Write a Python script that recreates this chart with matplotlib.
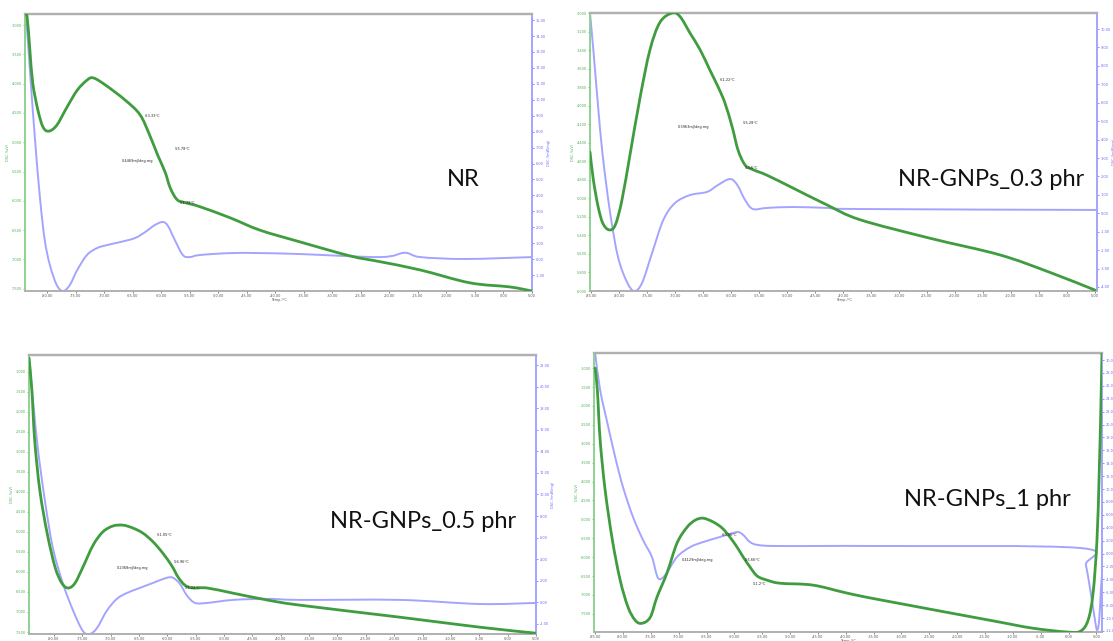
import numpy as np
import matplotlib.pyplot as plt
from matplotlib.path import Path
from matplotlib.patches import PathPatch

plt.rcParams['font.family'] = ['DejaVu Sans']

# ---- NR (top left) ----
nr_green_t = [-83.86, -83.5, -83.0, -82.5, -81.6, -80.7, -79.7, -78.3, -76.5, -74.7, -73.0, -71.9, -69.8, -66.3,
              -63.7, -62.0, -60.6, -59.3, -58.4, -57.2, -55.8, -53.2, -47.9, -42.7, -35.7, -26.9, -21.6, -14.6,
              -5.9, 1.1, 5.0]
nr_green = [2.81, 2.85, 3.43, 3.99, 4.45, 4.74, 4.81, 4.71, 4.40, 4.11, 3.94, 3.90, 4.02, 4.28,
            4.53, 4.88, 5.22, 5.51, 5.78, 5.98, 6.03, 6.10, 6.29, 6.50, 6.70, 6.94, 7.04, 7.18,
            7.40, 7.47, 7.54]
nr_blue_t = [-83.86, -83.5, -83.0, -82.1, -81.2, -80.4, -79.5, -78.3, -77.2, -76.0, -74.7, -73.0, -71.2, -69.5,
             -67.2, -64.6, -62.8, -61.1, -59.7, -58.8, -57.6, -56.2, -55.0, -53.2, -47.9, -42.7, -35.7, -21.6,
             -17.3, -14.6, -6.7, 5.0]
nr_blue = [15.38, 14.37, 11.86, 7.47, 3.71, 1.20, -0.37, -1.62, -2.0, -1.62, -0.68, 0.26, 0.70, 0.88,
           1.07, 1.32, 1.70, 2.14, 2.33, 2.08, 1.20, 0.26, 0.13, 0.26, 0.38, 0.38, 0.32, 0.13,
           0.40, 0.13, 0.01, 0.13]

# ---- NR-GNPs_0.3 phr (top right) ----
g03_green_t = [-85.2, -84.6, -83.75, -82.9, -81.8, -80.7, -79.5, -78.0, -76.25, -74.5, -72.7, -70.5, -69.1, -67.3,
               -65.5, -63.75, -62.3, -61.1, -59.8, -58.75, -57.5, -56.1, -53.6, -48.9, -42.9, -37.0, -24.5, -12.0,
               -3.0, 5.0]
g03_green = [4.50, 4.80, 5.09, 5.27, 5.34, 5.29, 5.02, 4.51, 3.91, 3.40, 3.10, 3.00, 3.04, 3.22,
             3.40, 3.62, 3.80, 3.97, 4.23, 4.48, 4.64, 4.69, 4.75, 4.89, 5.07, 5.23, 5.43, 5.61,
             5.80, 5.99]
g03_blue_t = [-85.2, -84.6, -83.75, -82.9, -81.6, -80.2, -78.6, -77.3, -75.9, -74.1, -72.1, -70.0, -67.3, -64.3,
              -62.3, -60.2, -58.9, -57.5, -56.1, -53.6, -48.9, -42.9, -37.0, 5.36]
g03_blue = [10.87, 8.86, 5.77, 3.05, 0.02, -2.37, -3.73, -4.22, -3.78, -2.15, -0.36, 0.56, 0.99, 1.16,
            1.54, 1.86, 1.54, 0.72, 0.23, 0.29, 0.34, 0.29, 0.23, 0.18]

# ---- NR-GNPs_0.5 phr (bottom left) ----
g05_green_t = [-84.4, -83.9, -83.4, -82.5, -81.2, -79.8, -78.6, -77.5, -76.3, -74.9, -73.1, -71.4, -69.6, -67.8,
               -66.1, -64.3, -62.5, -60.8, -59.2, -58.1, -56.9, -55.5, -53.0, -48.4, -42.4, -36.6, -19.0, -4.9,
               5.0]
g05_green = [0.65, 1.45, 2.70, 3.95, 5.03, 5.88, 6.28, 6.40, 6.28, 5.88, 5.33, 5.00, 4.85, 4.83,
             4.90, 5.03, 5.25, 5.53, 5.85, 6.13, 6.33, 6.40, 6.40, 6.53, 6.70, 6.83, 7.13, 7.38,
             7.53]
g05_blue_t = [-84.4, -83.7, -82.8, -81.6, -80.2, -78.4, -76.6, -74.9, -73.7, -72.4, -70.7, -68.9, -67.1, -64.8,
              -62.5, -60.1, -59.0, -57.8, -56.5, -55.1, -53.0, -48.4, -42.4, -36.6, -19.0, -4.9, 5.0]
g05_blue = [22.74, 18.74, 14.09, 9.44, 5.07, 1.72, -0.79, -2.65, -2.93, -2.37, -0.79, 0.33, 0.88, 1.35,
            1.81, 2.28, 2.28, 1.72, 0.60, -0.05, -0.05, 0.23, 0.33, 0.23, 0.23, -0.15, -0.05]

# ---- NR-GNPs_1 phr (bottom right) ----
g1_green_t = [-85.0, -84.6, -84.1, -83.2, -81.9, -80.5, -79.1, -77.8, -76.6, -75.1, -73.9, -72.1, -70.3, -68.5,
              -67.0, -65.6, -63.8, -62.2, -60.8, -59.5, -58.4, -57.2, -55.9, -54.1, -51.8, -45.9, -39.8, -33.8,
              -12.3, -6.4, -0.3, 2.1, 3.5, 4.4, 5.1, 5.5, 5.8, 6.0]
g1_green = [1.00, 1.58, 2.90, 4.23, 5.55, 6.61, 7.32, 7.67, 7.75, 7.59, 7.06, 6.42, 5.63, 5.21,
            5.02, 4.97, 5.07, 5.23, 5.47, 5.74, 6.00, 6.26, 6.50, 6.61, 6.69, 6.74, 6.95, 7.13,
            7.72, 7.88, 7.98, 7.96, 7.67, 6.95, 5.55, 3.78, 2.03, 0.60]
g1_blue_t = [-85.0, -84.1, -82.8, -81.4, -80.0, -78.2, -76.4, -74.8, -73.7, -72.4, -70.3, -67.9, -65.6, -62.6,
             -60.2, -59.3, -58.4, -57.2, -55.7, -51.8, -33.8, 2.1, 3.1, 3.9, 4.6, 5.1, 5.5, 5.8, 6.0]
g1_blue = [31.09, 25.35, 20.23, 14.96, 10.31, 5.66, 2.09, -0.54, -3.80, -3.33, -0.54, 1.01, 1.78, 2.56,
           3.18, 3.33, 2.87, 1.78, 1.32, 1.16, 1.16, 0.85, -1.78, -5.66, -9.53, -11.86, -10.31, -5.66, -3.33]

titles = ["NR", "NR-GNPs_0.3 phr", "NR-GNPs_0.5 phr", "NR-GNPs_1 phr"]

notes_nr = [(-62.8, 4.57, "-63.33°C"), (-57.6, 5.13, "-55.78°C"), (-66.9, 5.34, "0.4469mJ/deg.mg"), (-56.7, 6.05, "-51.79°C")]
notes_03 = [(-62.0, 3.73, "-61.22°C"), (-57.9, 4.20, "-55.28°C"), (-69.6, 4.24, "0.3963mJ/deg.mg"), (-57.5, 4.68, "-53.6°C")]
notes_05 = [(-61.8, 5.10, "-61.05°C"), (-58.8, 5.78, "-56.96°C"), (-68.9, 5.93, "0.2368mJ/deg.mg"), (-56.9, 6.43, "-51.22°C")]
notes_1 = [(-62.2, 5.44, "-60.56°C"), (-58.1, 6.11, "-55.66°C"), (-69.4, 6.11, "0.4129mJ/deg.mg"), (-56.6, 6.74, "-51.2°C")]

green = "#3f9c3f"
blue = "#a4a4ff"
gspine = "#8fd18f"
grey = "#b0b0b0"

fig = plt.figure(figsize=(11.13, 6.41), dpi=100)


def smooth_line(ax, xs, ys, **kw):
    # draw the measured points as a smooth bezier path (same points, rounded joins)
    p = np.column_stack([xs, ys]).astype(float)
    verts = [p[0]]
    codes = [Path.MOVETO]
    n = len(p)
    for i in range(n - 1):
        p0 = p[max(i - 1, 0)]
        p1 = p[i]
        p2 = p[i + 1]
        p3 = p[min(i + 2, n - 1)]
        c1 = p1 + (p2 - p0) / 6.0
        c2 = p2 - (p3 - p1) / 6.0
        verts += [c1, c2, p2]
        codes += [Path.CURVE4] * 3
    ax.add_patch(PathPatch(Path(verts, codes), fill=False, capstyle='round', joinstyle='round', **kw))


def panel(rect, gt, gy, bt, by, xlim, ylim_l, lticks, ylim_r, rticks, xticks, notes):
    ax = fig.add_axes(rect)
    ax2 = ax.twinx()
    smooth_line(ax, gt, gy, edgecolor=green, lw=2.0, zorder=3)
    smooth_line(ax2, bt, by, edgecolor=blue, lw=1.4)
    ax.set_zorder(ax2.get_zorder() + 1)
    ax.patch.set_visible(False)
    ax.set_xlim(*xlim)
    ax.set_ylim(ylim_l[1], ylim_l[0])
    ax2.set_ylim(*ylim_r)
    ax.set_yticks(lticks)
    ax.set_yticklabels(["%.3f" % v for v in lticks])
    ax2.set_yticks(rticks)
    ax2.set_yticklabels(["%.2f" % v for v in rticks])
    ax.set_xticks(xticks)
    ax.set_xticklabels(["%.2f" % v for v in xticks])
    ax.tick_params(axis='y', labelsize=2.5, colors="#4caf50", length=1.5, width=0.5, pad=1)
    ax2.tick_params(axis='y', labelsize=2.5, colors="#6666ff", length=1.5, width=0.5, pad=1)
    ax.tick_params(axis='x', labelsize=2.5, colors="#555555", length=1.5, width=0.5, pad=0.5)
    ax.set_xlabel("Temp./°C", fontsize=2.5, color="#555555", labelpad=0.3)
    ax.set_ylabel("DSC /(uV)", fontsize=2.5, color="#4caf50", labelpad=1)
    ax2.set_ylabel("DSC /(mW/mg)", fontsize=2.5, color="#6666ff", labelpad=1)
    for a in (ax, ax2):
        a.spines['top'].set_color(grey)
        a.spines['top'].set_linewidth(1.6)
        a.spines['bottom'].set_color(grey)
        a.spines['bottom'].set_linewidth(1.2)
        a.spines['left'].set_color(gspine)
        a.spines['left'].set_linewidth(1.2)
        a.spines['right'].set_color(blue)
        a.spines['right'].set_linewidth(1.2)
    for x, y, s in notes:
        ax.text(x, y, s, fontsize=2.5, color="#222222", zorder=4)
    return ax


panel([0.02246, 0.5460, 0.4555, 0.4321], nr_green_t, nr_green, nr_blue_t, nr_blue,
      (-83.86, 5.0), (2.81, 7.54), np.arange(3.0, 7.51, 0.5), (-2.0, 15.38), np.arange(-1, 15.1, 1),
      np.arange(-80, 5.1, 5), notes_nr)
panel([0.5301, 0.5460, 0.4555, 0.4337], g03_green_t, g03_green, g03_blue_t, g03_blue,
      (-85.2, 5.36), (3.0, 6.0), np.arange(3.0, 6.01, 0.2), (-4.22, 10.87), np.arange(-4, 10.1, 1),
      np.arange(-85, 5.1, 5), notes_03)
panel([0.02606, 0.01092, 0.4555, 0.4353], g05_green_t, g05_green, g05_blue_t, g05_blue,
      (-84.4, 5.0), (0.575, 7.55), np.arange(1.0, 7.51, 0.5), (-2.93, 22.93), np.arange(-2, 22.1, 2),
      np.arange(-80, 5.1, 5), notes_05)
panel([0.5337, 0.01404, 0.4564, 0.4353], g1_green_t, g1_green, g1_blue_t, g1_blue,
      (-85.2, 6.0), (0.60, 7.98), np.arange(1.0, 7.51, 0.5), (-12.17, 31.09), np.arange(-12, 30.1, 2),
      np.arange(-85, 5.1, 5), notes_1)

tfont = ['Lato', 'DejaVu Sans']
fig.text(463 / 1113, 1 - 180 / 641, titles[0], fontsize=17, ha='center', va='center', color="#111111", family=tfont)
fig.text(991 / 1113, 1 - 180 / 641, titles[1], fontsize=17, ha='center', va='center', color="#111111", family=tfont)
fig.text(423 / 1113, 1 - 522 / 641, titles[2], fontsize=17, ha='center', va='center', color="#111111", family=tfont)
fig.text(987 / 1113, 1 - 500 / 641, titles[3], fontsize=17, ha='center', va='center', color="#111111", family=tfont)

fig.savefig("out.png", dpi=100)
